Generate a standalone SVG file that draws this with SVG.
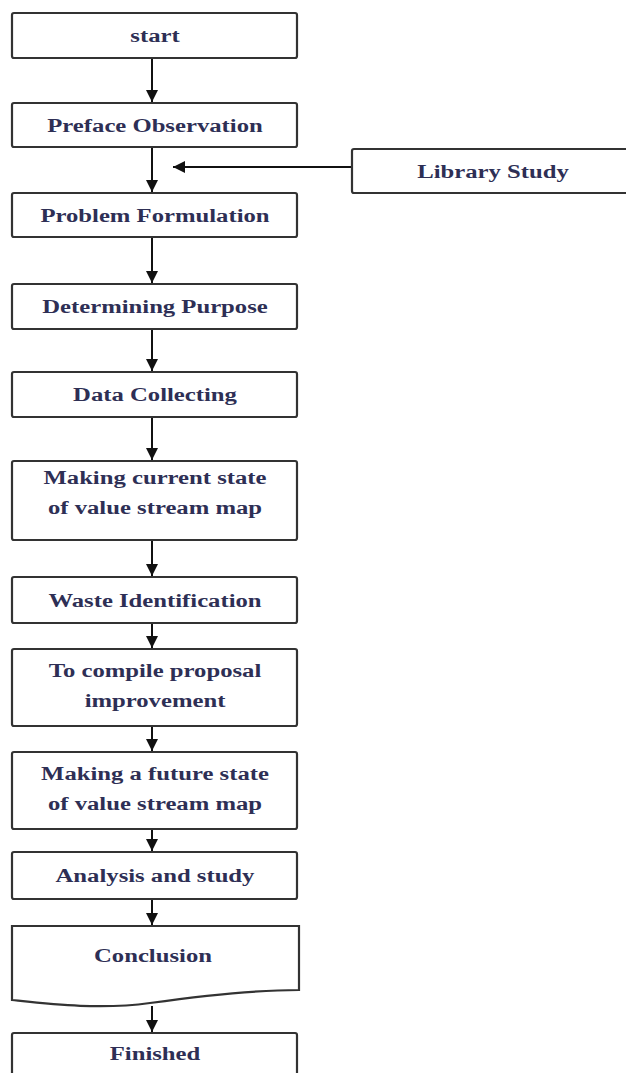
<svg xmlns="http://www.w3.org/2000/svg" width="626" height="1073" viewBox="0 0 626 1073">
<defs>
<marker id="ah" markerWidth="12" markerHeight="12" refX="12" refY="6" orient="auto" markerUnits="userSpaceOnUse">
<path d="M0,0 L12,6 L0,12 Z" fill="#111"/>
</marker>
<style>
.box{fill:#fff;stroke:#333;stroke-width:2.2}
.t{font-family:"Liberation Serif","DejaVu Serif","Times New Roman",serif;font-weight:bold;font-size:19px;fill:#2e2f55;text-anchor:middle}
.c{stroke:#111;stroke-width:2;fill:none}
</style>
</defs>
<rect width="626" height="1073" fill="#fff"/>
<g id="connectors">
<line class="c" x1="152" y1="58" x2="152" y2="102" marker-end="url(#ah)"/>
<line class="c" x1="152" y1="147" x2="152" y2="192" marker-end="url(#ah)"/>
<polyline class="c" points="352,167 173,167" marker-end="url(#ah)"/>
<line class="c" x1="152" y1="237" x2="152" y2="283" marker-end="url(#ah)"/>
<line class="c" x1="152" y1="329" x2="152" y2="371" marker-end="url(#ah)"/>
<line class="c" x1="152" y1="417" x2="152" y2="460" marker-end="url(#ah)"/>
<line class="c" x1="152" y1="540" x2="152" y2="576" marker-end="url(#ah)"/>
<line class="c" x1="152" y1="623" x2="152" y2="648" marker-end="url(#ah)"/>
<line class="c" x1="152" y1="726" x2="152" y2="751" marker-end="url(#ah)"/>
<line class="c" x1="152" y1="829" x2="152" y2="851" marker-end="url(#ah)"/>
<line class="c" x1="152" y1="899" x2="152" y2="925" marker-end="url(#ah)"/>
<line class="c" x1="152" y1="1006" x2="152" y2="1032" marker-end="url(#ah)"/>
</g>
<g id="start"><rect class="box" x="12" y="13" width="285" height="45" rx="2"/><text class="t" transform="translate(155,42) scale(1.3,1)">start</text></g>
<g id="preface"><rect class="box" x="12" y="103" width="285" height="44" rx="2"/><text class="t" transform="translate(155,132) scale(1.3,1)">Preface Observation</text></g>
<g id="library"><rect class="box" x="352" y="149" width="290" height="44" rx="2"/><text class="t" transform="translate(493,178) scale(1.3,1)">Library Study</text></g>
<g id="problem"><rect class="box" x="12" y="193" width="285" height="44" rx="2"/><text class="t" transform="translate(155,222) scale(1.3,1)">Problem Formulation</text></g>
<g id="purpose"><rect class="box" x="12" y="284" width="285" height="45" rx="2"/><text class="t" transform="translate(155,313) scale(1.3,1)">Determining Purpose</text></g>
<g id="data"><rect class="box" x="12" y="372" width="285" height="45" rx="2"/><text class="t" transform="translate(155,401) scale(1.3,1)">Data Collecting</text></g>
<g id="current"><rect class="box" x="12" y="461" width="285" height="79" rx="2"/><text class="t" transform="translate(155,484) scale(1.3,1)">Making current state</text><text class="t" transform="translate(155,514) scale(1.3,1)">of value stream map</text></g>
<g id="waste"><rect class="box" x="12" y="577" width="285" height="46" rx="2"/><text class="t" transform="translate(155,607) scale(1.3,1)">Waste Identification</text></g>
<g id="compile"><rect class="box" x="12" y="649" width="285" height="77" rx="2"/><text class="t" transform="translate(155,677) scale(1.3,1)">To compile proposal</text><text class="t" transform="translate(155,707) scale(1.3,1)">improvement</text></g>
<g id="future"><rect class="box" x="12" y="752" width="285" height="77" rx="2"/><text class="t" transform="translate(155,780) scale(1.3,1)">Making a future state</text><text class="t" transform="translate(155,810) scale(1.3,1)">of value stream map</text></g>
<g id="analysis"><rect class="box" x="12" y="852" width="285" height="47" rx="2"/><text class="t" transform="translate(155,882) scale(1.3,1)">Analysis and study</text></g>
<g id="conclusion"><path class="box" d="M12,926 L299,926 L299,990 C250,990 200,996 150,1003 C100,1010 50,1004 12,1000 Z"/><text class="t" transform="translate(153,962) scale(1.3,1)">Conclusion</text></g>
<g id="finished"><rect class="box" x="12" y="1033" width="285" height="50" rx="2"/><text class="t" transform="translate(155,1060) scale(1.3,1)">Finished</text></g>
</svg>
